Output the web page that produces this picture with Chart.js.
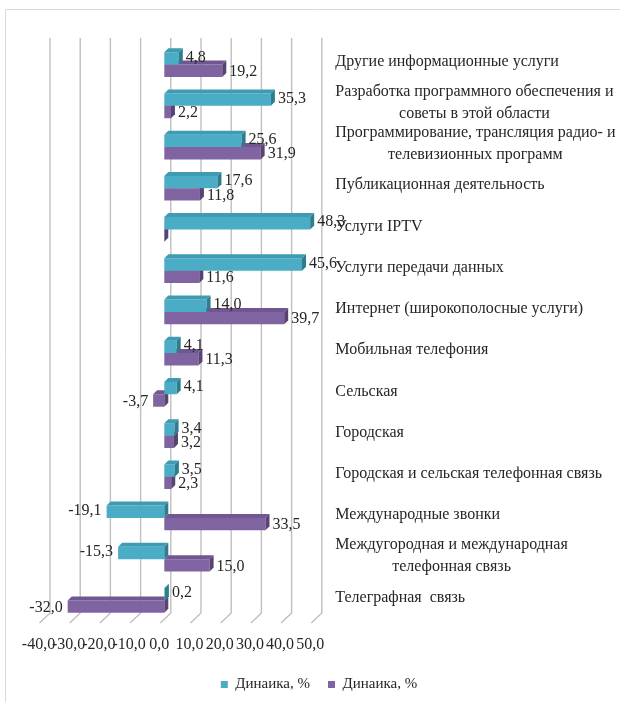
<!DOCTYPE html>
<html><head><meta charset="utf-8">
<script src="https://cdn.jsdelivr.net/npm/chart.js@4.4.0/dist/chart.umd.min.js"></script>
<style>html,body{margin:0;padding:0;background:#fff;}canvas{display:block}</style>
</head><body>
<canvas id="c" width="620" height="702"></canvas>
<script>
const categories = [
  'Другие информационные услуги',
  ['Разработка программного обеспечения и', 'советы в этой области'],
  ['Программирование, трансляция радио- и', 'телевизионных программ'],
  'Публикационная деятельность',
  'Услуги IPTV',
  'Услуги передачи данных',
  'Интернет (широкополосные услуги)',
  'Мобильная телефония',
  'Сельская',
  'Городская',
  'Городская и сельская телефонная связь',
  'Международные звонки',
  ['Междугородная и международная', 'телефонная связь'],
  'Телеграфная  связь'
];
const seriesTeal = [4.8, 35.3, 25.6, 17.6, 48.3, 45.6, 14.0, 4.1, 4.1, 3.4, 3.5, -19.1, -15.3, 0.2];
const seriesPurple = [19.2, 2.2, 31.9, 11.8, 0, 11.6, 39.7, 11.3, -3.7, 3.2, 2.3, 33.5, 15.0, -32.0];
const seriesNames = ['Динаика, %', 'Динаика, %'];
const xTicks = [-40, -30, -20, -10, 0, 10, 20, 30, 40, 50];

const FONT = '"Liberation Serif", "Times New Roman", serif';
const TXT = '#262626';
const DEPTH = 4;
const fmt = v => v.toFixed(1).replace('.', ',');

const borderPlugin = {
  id: 'outerBorder',
  beforeDraw(chart) {
    const ctx = chart.ctx;
    ctx.save();
    ctx.strokeStyle = '#d9d9d9';
    ctx.lineWidth = 1;
    ctx.beginPath();
    ctx.moveTo(5.5, 702); ctx.lineTo(5.5, 9.5); ctx.lineTo(620, 9.5);
    ctx.stroke();
    ctx.restore();
  }
};

const grid3d = {
  id: 'grid3d',
  beforeDatasetsDraw(chart) {
    const {ctx, chartArea} = chart;
    const xs = chart.scales.x;
    ctx.save();
    ctx.strokeStyle = '#bfbfbf';
    ctx.lineWidth = 1.4;
    xTicks.forEach(v => {
      const px = xs.getPixelForValue(v);
      ctx.beginPath();
      ctx.moveTo(px + 6.5, chartArea.top - 6);
      ctx.lineTo(px + 6.5, chartArea.bottom - 8);
      ctx.lineTo(px - 4, chartArea.bottom + 2);
      ctx.stroke();
    });
    ctx.restore();
  }
};

const bar3d = {
  id: 'bar3d',
  afterDatasetDraw(chart, args) {
    const ctx = chart.ctx;
    const ds = chart.data.datasets[args.index];
    ctx.save();
    args.meta.data.forEach(el => {
      const {x, y, base, height} = el.getProps(['x', 'y', 'base', 'height'], true);
      const l = Math.min(x, base), r = Math.max(x, base);
      const t = y - height / 2, b = y + height / 2;
      ctx.fillStyle = ds.topColor;
      ctx.beginPath();
      ctx.moveTo(l, t); ctx.lineTo(l + DEPTH, t - DEPTH); ctx.lineTo(r + DEPTH, t - DEPTH); ctx.lineTo(r, t);
      ctx.closePath(); ctx.fill();
      ctx.fillStyle = ds.sideColor;
      ctx.beginPath();
      ctx.moveTo(r, t); ctx.lineTo(r + DEPTH, t - DEPTH); ctx.lineTo(r + DEPTH, b - DEPTH); ctx.lineTo(r, b);
      ctx.closePath(); ctx.fill();
    });
    ctx.restore();
  }
};

const textPlugin = {
  id: 'texts',
  afterDatasetsDraw(chart) {
    const {ctx, chartArea} = chart;
    ctx.save();
    ctx.fillStyle = TXT;
    ctx.font = '16px ' + FONT;
    ctx.textBaseline = 'middle';
    chart.data.datasets.forEach((ds, i) => {
      const meta = chart.getDatasetMeta(i);
      meta.data.forEach((el, j) => {
        const v = ds.data[j];
        if (v === 0) return;
        const yy = el.y + (i === 0 ? -1 : 1);
        if (v > 0) { ctx.textAlign = 'left'; ctx.fillText(fmt(v), el.x + DEPTH + 3, yy); }
        else { ctx.textAlign = 'right'; ctx.fillText(fmt(v), el.x - 5, yy); }
      });
    });
    const ys = chart.scales.y;
    const x0 = chartArea.right + 20;
    categories.forEach((c, i) => {
      const yc = ys.getPixelForValue(i) - 3;
      const lines = Array.isArray(c) ? c : [c];
      const widest = Math.max(...lines.map(s => ctx.measureText(s).width));
      lines.forEach((s, k) => {
        const ly = yc - (lines.length - 1) * 11 + k * 22;
        if (lines.length === 1) { ctx.textAlign = 'left'; ctx.fillText(s, x0, ly); }
        else { ctx.textAlign = 'center'; ctx.fillText(s, x0 + widest / 2, ly); }
      });
    });
    ctx.restore();
  }
};

new Chart(document.getElementById('c'), {
  type: 'bar',
  data: {
    labels: categories,
    datasets: [
      { label: seriesNames[0], data: seriesTeal, backgroundColor: '#4bacc6', topColor: '#3d9bb2', sideColor: '#2e7d8e',
        categoryPercentage: 0.6, barPercentage: 1.0 },
      { label: seriesNames[1], data: seriesPurple, backgroundColor: '#8064a2', topColor: '#705792', sideColor: '#584372',
        categoryPercentage: 0.6, barPercentage: 1.0 }
    ]
  },
  options: {
    indexAxis: 'y',
    responsive: false,
    animation: false,
    layout: { padding: { top: 44, left: 18, right: 0, bottom: 0 } },
    scales: {
      x: {
        type: 'linear', min: -40, max: 50,
        afterBuildTicks: s => { s.ticks = xTicks.map(v => ({ value: v })); },
        ticks: { callback: v => fmt(v), font: { family: FONT, size: 16 }, color: TXT, padding: 6,
                 labelOffset: -5, autoSkip: false, maxRotation: 0, minRotation: 0 },
        grid: { display: false }, border: { display: false },
        afterFit: s => { s.height = 38; }
      },
      y: {
        type: 'category', position: 'right',
        ticks: { display: false }, grid: { display: false }, border: { display: false },
        afterFit: s => { s.width = 304.7; }
      },
      yl: {
        type: 'linear', position: 'left',
        ticks: { display: false }, grid: { display: false }, border: { display: false },
        afterFit: s => { s.width = 25.5; }
      }
    },
    plugins: {
      legend: {
        position: 'bottom',
        labels: { boxWidth: 7, boxHeight: 7, padding: 18, color: TXT, font: { family: FONT, size: 15 } }
      },
      tooltip: { enabled: false }
    }
  },
  plugins: [borderPlugin, grid3d, bar3d, textPlugin]
});
</script>
</body></html>
